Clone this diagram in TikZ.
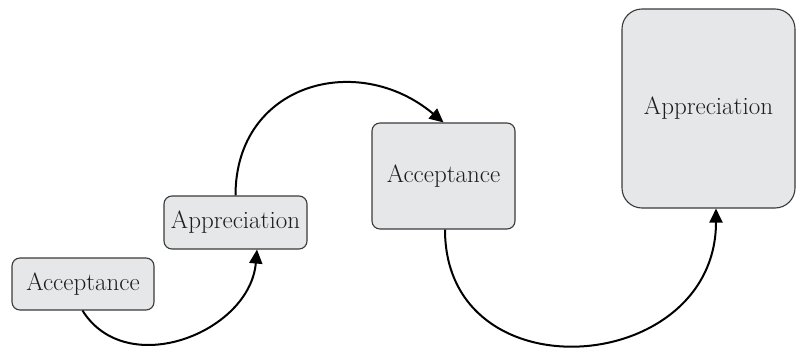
\documentclass[tikz,border=0pt]{standalone}
\usetikzlibrary{arrows.meta}
\definecolor{boxfill}{HTML}{E6E7E8}
\definecolor{boxline}{HTML}{3A3A3A}
\definecolor{txt}{HTML}{1E1E1E}
\begin{document}
\begin{tikzpicture}[x=1pt,y=-1pt,
  box/.style={draw=boxline,line width=1.1pt,fill=boxfill,rounded corners=8pt,
    text=txt,inner sep=0pt,font=\fontsize{25}{30}\selectfont},
  conn/.style={line width=2pt,black,-{Triangle[length=14pt,width=13pt]}}]
\useasboundingbox (0,0) rectangle (801,351);
\node[box,minimum width=142pt,minimum height=52pt] (a1) at (83,284) {Acceptance};
\node[box,minimum width=143pt,minimum height=53pt] (p1) at (235.5,222.5) {Appreciation};
\node[box,minimum width=143pt,minimum height=106pt] (a2) at (443.5,176) {Acceptance};
\node[box,minimum width=173pt,minimum height=199pt,rounded corners=20pt] (p2) at (708.5,108.5) {Appreciation};
\draw[conn] ([xshift=-0.5pt]a1.south) to[out=-58,in=-95,looseness=1.15] ([xshift=21.5pt]p1.south);
\draw[conn] (p1.north) to[out=90,in=140,looseness=1.3] (a2.north);
\draw[conn] ([xshift=1.5pt]a2.south) to[out=-90,in=-90,looseness=1.58] ([xshift=7.5pt]p2.south);
\end{tikzpicture}
\end{document}
